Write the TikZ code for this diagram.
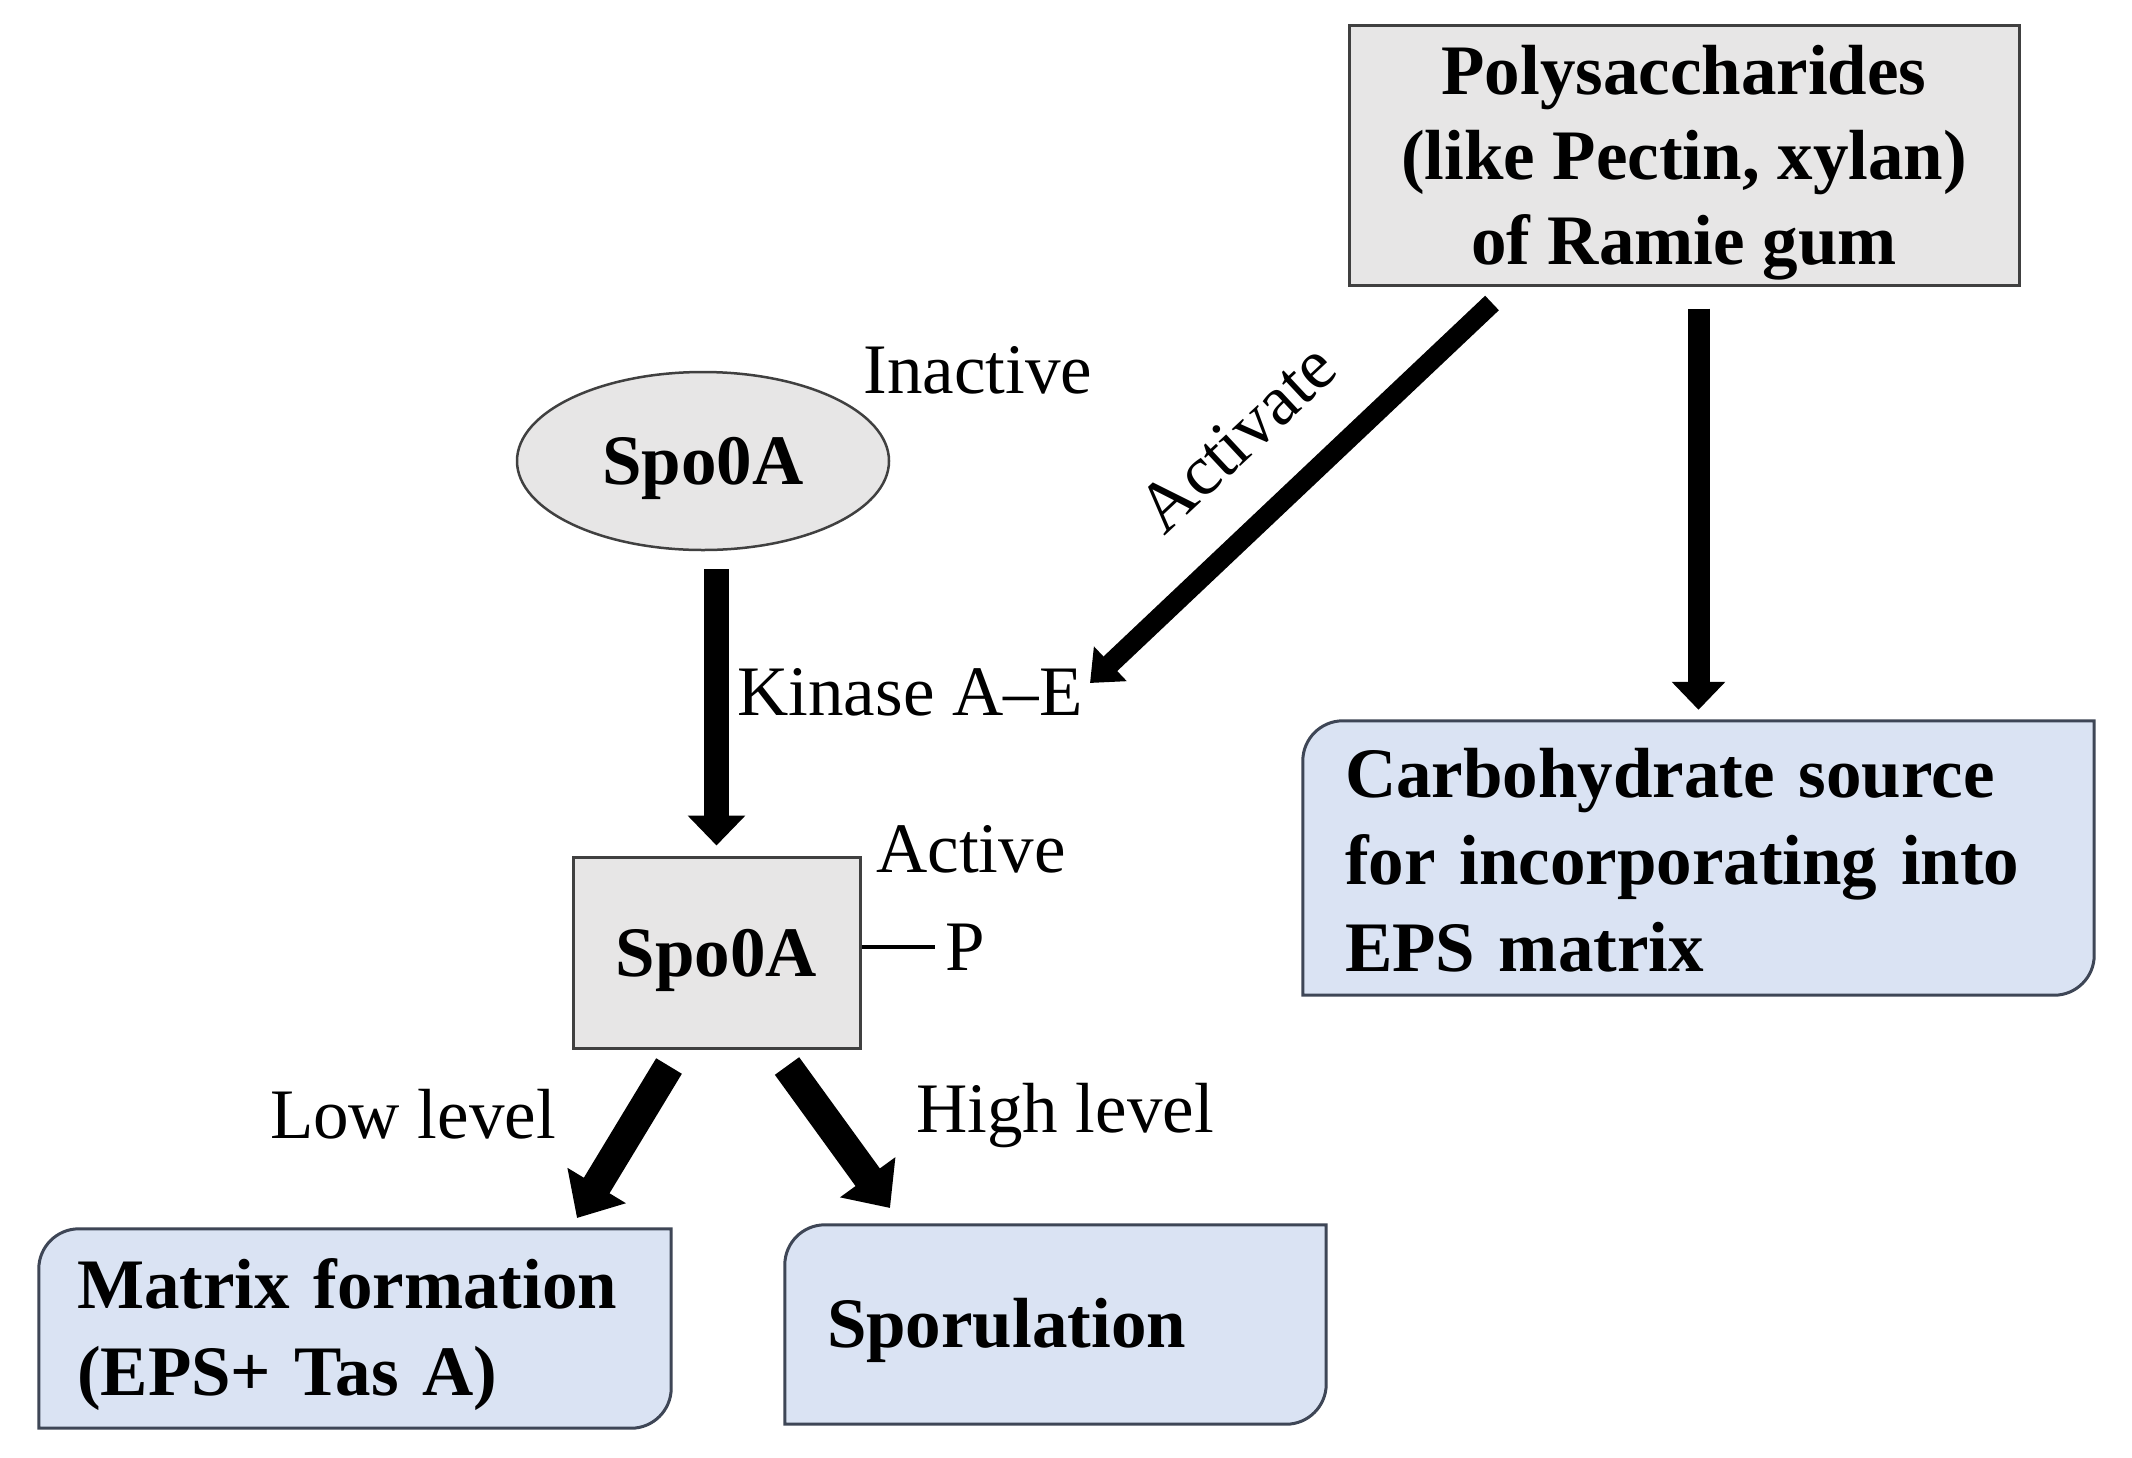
\documentclass[tikz,border=0pt]{standalone}
\usepackage{fontspec}
\setmainfont{Liberation Serif}
\usetikzlibrary{arrows.meta,shapes.geometric,calc,backgrounds}
\definecolor{grayfill}{RGB}{231,230,230}
\definecolor{grayline}{RGB}{64,64,64}
\definecolor{bluefill}{RGB}{218,227,243}
\definecolor{blueline}{RGB}{62,70,86}
\newcommand\tlbrbox[2]{%
 \draw[boxframe] (#1.south west) -- ([yshift=-#2]#1.north west)
   .. controls ([yshift=-0.45*#2]#1.north west) and ([xshift=0.45*#2]#1.north west) .. ([xshift=#2]#1.north west)
   -- (#1.north east) -- ([yshift=#2]#1.south east)
   .. controls ([yshift=0.45*#2]#1.south east) and ([xshift=-0.45*#2]#1.south east) .. ([xshift=-#2]#1.south east)
   -- cycle;}
\tikzset{
  lbl/.style={inner sep=0pt, anchor=base, font=\fontsize{71}{85}\selectfont},
  graybox/.style={draw=grayline, fill=grayfill, line width=3pt, align=center, inner sep=0pt, text depth=0pt, font=\fontsize{71}{85}\selectfont\bfseries},
  bluetext/.style={align=left, inner ysep=0pt, font=\fontsize{71}{87}\selectfont\bfseries},
  boxframe/.style={draw=blueline, fill=bluefill, line width=3pt},
  arrV/.style={line width=25pt, -{Triangle[width=56pt,length=30pt]}},
  arrR/.style={line width=22pt, -{Triangle[width=52pt,length=28pt]}},
  arrD/.style={line width=20pt, -{Triangle[width=46pt,length=28pt]}},
  arrL/.style={line width=30pt, -{Triangle[width=66pt,length=38pt]}},
  pline/.style={line width=3.5pt}
}
\begin{document}
\begin{tikzpicture}[x=1pt, y=-1pt]
\useasboundingbox (0,0) rectangle (2132,1457);
% boxes
\node[graybox, minimum width=670pt, minimum height=260pt] (poly) at (1684,155)
  {Polysaccharides\\(like Pectin, xylan)\\of Ramie gum};
\node[ellipse, draw=grayline, fill=grayfill, line width=2.5pt, minimum width=372pt,
  minimum height=178pt, inner sep=0pt, text depth=0pt, font=\fontsize{71}{85}\selectfont\bfseries] (spoI) at (703,461) {Spo0A};
\node[graybox, minimum width=287pt, minimum height=191pt] (spoA) at (716.5,952.5) {Spo0A};
\node[bluetext, text width=707pt, inner xsep=42pt, minimum height=274pt] (carb) at (1698.5,858)
  {\rule{0pt}{53pt}Carbohydrate source\\for incorporating into\\EPS matrix};
\node[bluetext, text width=556pt, inner xsep=38pt, minimum height=199pt] (mform) at (355,1328.5)
  {\rule{0pt}{62pt}Matrix formation\\(EPS+ Tas A)};
\node[bluetext, text width=457pt, inner xsep=42pt, minimum height=199pt] (spor) at (1055.5,1324.5)
  {\rule{0pt}{62pt}Sporulation};
\begin{scope}[on background layer]
  \fill[white] (0,0) rectangle (2132,1457);
  \tlbrbox{carb}{40pt}
  \tlbrbox{mform}{40pt}
  \tlbrbox{spor}{40pt}
\end{scope}
% labels
\node[lbl] (inact) at (978,393) {Inactive};
\node[lbl] (kin) at (910,715) {Kinase A--E};
\node[lbl] (act) at (971,872) {Active};
\node[lbl] (pp) at (965,970) {P};
\node[lbl] (low) at (413,1138) {Low level};
\node[lbl] (high) at (1065,1132) {High level};
\node[inner sep=0pt, rotate=43, font=\fontsize{71}{85}\selectfont] (actv) at (1237,438) {Activate};
% connectors
\coordinate (dS) at (1492,303);
\coordinate (dE) at (1090,683);
\coordinate (lS) at (669,1066);
\coordinate (lE) at (577,1218);
\coordinate (hS) at (787,1066);
\coordinate (hE) at (890,1208);
\draw[arrV, shorten <=18pt, shorten >=10pt] (spoA.north |- spoI.south) -- (spoA.north);
\draw[arrR, shorten <=22pt, shorten >=11pt] (poly.south -| carb.north) -- (carb.north);
\draw[arrD] (dS) -- (dE);
\draw[arrL] (lS) -- (lE);
\draw[arrL] (hS) -- (hE);
\draw[pline] (pp.west -| spoA.east) -- ([xshift=-10pt]pp.west);
\end{tikzpicture}
\end{document}
